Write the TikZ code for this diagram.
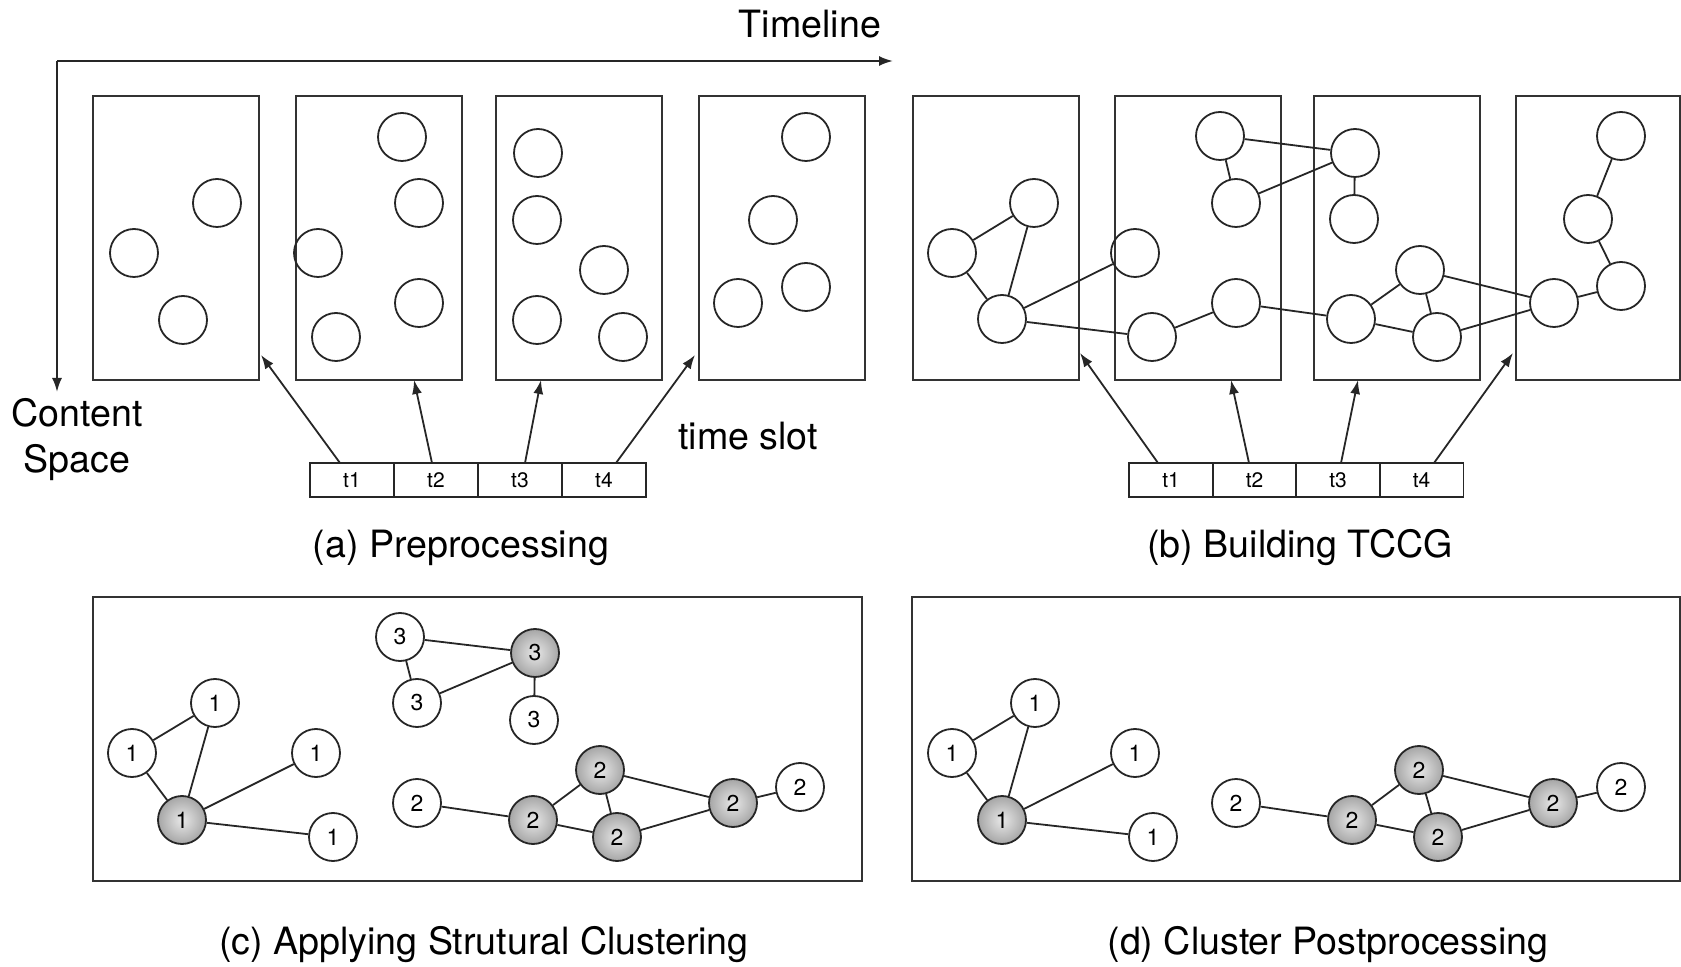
\documentclass[tikz,border=0pt]{standalone}
\usepackage{fontspec}
\setmainfont{TeX Gyre Heros}
\usetikzlibrary{arrows.meta}
\begin{document}
\begin{tikzpicture}[x=0.5pt,y=-0.5pt,
  slotbox/.style={draw=black!80, line width=1.1pt, inner sep=0pt, anchor=north west},
  circ/.style={circle, draw=black!85, line width=0.9pt, minimum size=24pt, inner sep=0pt,
    font=\fontsize{11.5}{12}\selectfont},
  gcirc/.style={circ, inner color=gray!18, outer color=gray!70},
  cell/.style={draw=black!85, line width=0.9pt, minimum width=42pt, minimum height=17pt, inner sep=0pt,
    font=\fontsize{10.5}{12}\selectfont},
  edge/.style={draw=black!85, line width=0.9pt},
  arr/.style={draw=black!85, line width=0.9pt, -{Latex[length=7pt,width=5pt]}},
  big/.style={font=\fontsize{18.8}{23}\selectfont, inner sep=0pt}
]
\useasboundingbox (0,0) rectangle (1681,967);

% axes
\coordinate (origin) at (57,61);
\coordinate (tlend) at (893,61);
\coordinate (csend) at (57,392);
\draw[arr, line width=1pt] (origin) -- (tlend);
\draw[arr, line width=1pt] (origin) -- (csend);
\node[big] (timeline) at (810,24) {Timeline};
\node[big, align=center] (content) at (77,440) {Content\\Space};
\node[big] (timeslot) at (748,436) {time slot};

% ---------- panel (a) ----------
\node[slotbox, minimum width=83pt, minimum height=142pt] (ab1) at (92,95) {};
\node[slotbox, minimum width=83pt, minimum height=142pt] (ab2) at (295,95) {};
\node[slotbox, minimum width=83pt, minimum height=142pt] (ab3) at (495,95) {};
\node[slotbox, minimum width=83pt, minimum height=142pt] (ab4) at (698,95) {};

\node[circ] (p11) at (217,203) {};
\node[circ] (p12) at (134,253) {};
\node[circ] (p13) at (183,320) {};
\node[circ] (p21) at (402,137) {};
\node[circ] (p22) at (419,203) {};
\node[circ] (p23) at (318,253) {};
\node[circ] (p24) at (419,303) {};
\node[circ] (p25) at (336,337) {};
\node[circ] (p31) at (538,153) {};
\node[circ] (p32) at (537,220) {};
\node[circ] (p33) at (604,270) {};
\node[circ] (p34) at (537,320) {};
\node[circ] (p35) at (623,337) {};
\node[circ] (p41) at (806,137) {};
\node[circ] (p42) at (773,220) {};
\node[circ] (p43) at (806,287) {};
\node[circ] (p44) at (738,303) {};

\node[cell] (ta1) at (352,480) {t1};
\node[cell] (ta2) at (436,480) {t2};
\node[cell] (ta3) at (520,480) {t3};
\node[cell] (ta4) at (604,480) {t4};

\coordinate (sa1) at (340,463); \coordinate (ea1) at (261,355);
\coordinate (sa2) at (432,463); \coordinate (ea2) at (414,380);
\coordinate (sa3) at (525,463); \coordinate (ea3) at (541,380);
\coordinate (sa4) at (616,463); \coordinate (ea4) at (695,355);
\draw[arr] (sa1) -- (ea1);
\draw[arr] (sa2) -- (ea2);
\draw[arr] (sa3) -- (ea3);
\draw[arr] (sa4) -- (ea4);

\node[big] (capa) at (461,548) {(a) Preprocessing};

% ---------- panel (b) ----------
\node[slotbox, minimum width=83pt, minimum height=142pt] (bb1) at (912,95) {};
\node[slotbox, minimum width=83pt, minimum height=142pt] (bb2) at (1114,95) {};
\node[slotbox, minimum width=83pt, minimum height=142pt] (bb3) at (1313,95) {};
\node[slotbox, minimum width=82pt, minimum height=142pt] (bb4) at (1515,95) {};

\node[circ] (A1) at (1034,203) {};
\node[circ] (A2) at (952,253) {};
\node[circ] (A3) at (1002,319) {};
\node[circ] (B1) at (1220,136) {};
\node[circ] (B2) at (1236,203) {};
\node[circ] (B3) at (1135,253) {};
\node[circ] (B4) at (1236,303) {};
\node[circ] (B5) at (1152,337) {};
\node[circ] (C1) at (1355,153) {};
\node[circ] (C2) at (1354,219) {};
\node[circ] (C3) at (1420,270) {};
\node[circ] (C4) at (1351,319) {};
\node[circ] (C5) at (1437,337) {};
\node[circ] (D1) at (1621,136) {};
\node[circ] (D2) at (1588,219) {};
\node[circ] (D3) at (1621,286) {};
\node[circ] (D4) at (1554,303) {};

\draw[edge] (A2) -- (A1);
\draw[edge] (A1) -- (A3);
\draw[edge] (A2) -- (A3);
\draw[edge] (A3) -- (B3);
\draw[edge] (A3) -- (B5);
\draw[edge] (B5) -- (B4);
\draw[edge] (B1) -- (B2);
\draw[edge] (B1) -- (C1);
\draw[edge] (B2) -- (C1);
\draw[edge] (C1) -- (C2);
\draw[edge] (B4) -- (C4);
\draw[edge] (C4) -- (C3);
\draw[edge] (C3) -- (C5);
\draw[edge] (C4) -- (C5);
\draw[edge] (C3) -- (D4);
\draw[edge] (C5) -- (D4);
\draw[edge] (D4) -- (D3);
\draw[edge] (D3) -- (D2);
\draw[edge] (D2) -- (D1);

\node[cell] (tb1) at (1171,480) {t1};
\node[cell] (tb2) at (1254.5,480) {t2};
\node[cell] (tb3) at (1338,480) {t3};
\node[cell] (tb4) at (1421.5,480) {t4};

\coordinate (sb1) at (1158,463); \coordinate (eb1) at (1080,353);
\coordinate (sb2) at (1249,463); \coordinate (eb2) at (1231,380);
\coordinate (sb3) at (1341,463); \coordinate (eb3) at (1358,380);
\coordinate (sb4) at (1434,463); \coordinate (eb4) at (1513,353);
\draw[arr] (sb1) -- (eb1);
\draw[arr] (sb2) -- (eb2);
\draw[arr] (sb3) -- (eb3);
\draw[arr] (sb4) -- (eb4);

\node[big] (capb) at (1300,548) {(b) Building TCCG};

% ---------- panel (c) ----------
\node[slotbox, minimum width=384.5pt, minimum height=142pt] (cbox) at (92,596) {};

\node[circ] (c1a) at (215,703) {1};
\node[circ] (c1b) at (132,753) {1};
\node[gcirc] (c1c) at (182,820) {1};
\node[circ] (c1d) at (316,753) {1};
\node[circ] (c1e) at (333,837) {1};
\draw[edge] (c1b) -- (c1a);
\draw[edge] (c1a) -- (c1c);
\draw[edge] (c1b) -- (c1c);
\draw[edge] (c1c) -- (c1d);
\draw[edge] (c1c) -- (c1e);

\node[circ] (c3a) at (400,637) {3};
\node[gcirc] (c3b) at (535,653) {3};
\node[circ] (c3c) at (417,703) {3};
\node[circ] (c3d) at (534,720) {3};
\draw[edge] (c3a) -- (c3b);
\draw[edge] (c3a) -- (c3c);
\draw[edge] (c3c) -- (c3b);
\draw[edge] (c3b) -- (c3d);

\node[circ] (c2a) at (417,803) {2};
\node[gcirc] (c2b) at (533,820) {2};
\node[gcirc] (c2c) at (600,770) {2};
\node[gcirc] (c2d) at (617,837) {2};
\node[gcirc] (c2e) at (733,803) {2};
\node[circ] (c2f) at (800,787) {2};
\draw[edge] (c2a) -- (c2b);
\draw[edge] (c2b) -- (c2c);
\draw[edge] (c2b) -- (c2d);
\draw[edge] (c2c) -- (c2d);
\draw[edge] (c2c) -- (c2e);
\draw[edge] (c2d) -- (c2e);
\draw[edge] (c2e) -- (c2f);

\node[big] (capc) at (484,945) {(c) Applying Strutural Clustering};

% ---------- panel (d) ----------
\node[slotbox, minimum width=384pt, minimum height=142pt] (dbox) at (911,596) {};

\node[circ] (d1a) at (1035,703) {1};
\node[circ] (d1b) at (952,753) {1};
\node[gcirc] (d1c) at (1002,820) {1};
\node[circ] (d1d) at (1135,753) {1};
\node[circ] (d1e) at (1153,837) {1};
\draw[edge] (d1b) -- (d1a);
\draw[edge] (d1a) -- (d1c);
\draw[edge] (d1b) -- (d1c);
\draw[edge] (d1c) -- (d1d);
\draw[edge] (d1c) -- (d1e);

\node[circ] (d2a) at (1236,803) {2};
\node[gcirc] (d2b) at (1352,820) {2};
\node[gcirc] (d2c) at (1419,770) {2};
\node[gcirc] (d2d) at (1438,837) {2};
\node[gcirc] (d2e) at (1553,803) {2};
\node[circ] (d2f) at (1621,787) {2};
\draw[edge] (d2a) -- (d2b);
\draw[edge] (d2b) -- (d2c);
\draw[edge] (d2b) -- (d2d);
\draw[edge] (d2c) -- (d2d);
\draw[edge] (d2c) -- (d2e);
\draw[edge] (d2d) -- (d2e);
\draw[edge] (d2e) -- (d2f);

\node[big] (capd) at (1328,945) {(d) Cluster Postprocessing};
\end{tikzpicture}
\end{document}
